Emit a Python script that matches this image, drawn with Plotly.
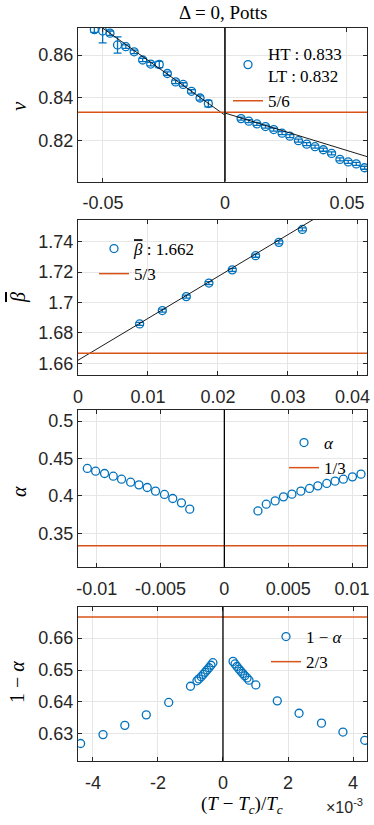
import numpy as np
import plotly.graph_objects as go

# ---- panel 1 : nu vs reduced temperature ----
nu_t_lt = [-0.0535, -0.0501, -0.0471, -0.0440, -0.0406, -0.0372, -0.0337, -0.0304,
           -0.0269, -0.0236, -0.0202, -0.0171, -0.0137, -0.0102, -0.0068]
nu_lt = [0.8718, 0.8712, 0.8702, 0.8647, 0.8639, 0.8615, 0.8577, 0.8558,
         0.8556, 0.8514, 0.8475, 0.8463, 0.8431, 0.8400, 0.8374]
nu_lt_err = [0.0012, 0.0055, 0.0010, 0.0038, 0.0008, 0.0008, 0.0008, 0.0008,
             0.0015, 0.0008, 0.0008, 0.0008, 0.0008, 0.0010, 0.0015]
nu_t_ht = [0.0066, 0.0098, 0.0131, 0.0166, 0.0200, 0.0234, 0.0266, 0.0301,
           0.0335, 0.0369, 0.0403, 0.0437, 0.0471, 0.0505, 0.0538, 0.0572]
nu_ht = [0.8304, 0.8292, 0.8279, 0.8267, 0.8253, 0.8236, 0.8222, 0.8201,
         0.8185, 0.8173, 0.8159, 0.8142, 0.8114, 0.8102, 0.8093, 0.8075]
nu_ht_err = [0.0007] * len(nu_ht)
nu_fit_lt = (0.832, -0.81)   # intercept, slope
nu_fit_ht = (0.833, -0.349)

# ---- panel 2 : beta bar ----
beta_t = [0.00881, 0.01205, 0.01548, 0.01871, 0.02205, 0.02538, 0.02871, 0.03206]
beta = [1.6859, 1.6947, 1.7039, 1.7128, 1.7215, 1.7308, 1.7396, 1.7481]
beta_err = [0.001] * len(beta)
beta_fit = (1.662, 2.755)

# ---- panel 3 : alpha ----
alpha_t = [-0.01073, -0.01008, -0.00938, -0.00870, -0.00805, -0.00734, -0.00669,
           -0.00604, -0.00539, -0.00469, -0.00404, -0.00336, -0.00271,
           0.00263, 0.00328, 0.00398, 0.00463, 0.00529, 0.00599, 0.00667,
           0.00732, 0.00802, 0.00867, 0.00932, 0.01003, 0.01070]
alpha = [0.4366, 0.4330, 0.4299, 0.4263, 0.4223, 0.4183, 0.4147,
         0.4112, 0.4063, 0.4019, 0.3965, 0.3907, 0.3823,
         0.3799, 0.3889, 0.3933, 0.3987, 0.4023, 0.4063, 0.4099,
         0.4134, 0.4166, 0.4197, 0.4223, 0.4254, 0.4290]

# ---- panel 4 : 1 - alpha (t in units of 1e-3) ----
oma_t = [-4.38, -3.69, -3.02, -2.36, -1.67, -1.00,
         -0.80, -0.74, -0.67, -0.61, -0.55, -0.49, -0.43, -0.37, -0.31,
         0.31, 0.37, 0.43, 0.49, 0.55, 0.61, 0.67, 0.74, 0.80,
         1.01, 1.67, 2.34, 3.03, 3.69, 4.36]
one_minus_alpha = [0.6269, 0.6297, 0.6326, 0.6359, 0.6398, 0.6449,
                   0.6466, 0.6472, 0.6479, 0.6486, 0.6493, 0.6500, 0.6507, 0.6515, 0.6523,
                   0.6527, 0.6519, 0.6511, 0.6503, 0.6496, 0.6489, 0.6482, 0.6475, 0.6468,
                   0.6453, 0.6403, 0.6364, 0.6333, 0.6305, 0.6279]

BLUE = '#0072BD'
ORANGE = '#D95319'
AX = '#262626'
SERIF = 'Liberation Serif'
SANS = 'Liberation Sans'
BETA = '<span style="text-decoration:overline"><i>β</i></span>'

xr = [[-0.0602, 0.0582], [0, 0.0413], [-0.01146, 0.01117], [-4.46e-3, 4.43e-3]]
yr = [[0.8011, 0.8726], [1.6523, 1.7543], [0.305, 0.5147], [0.6214, 0.6698]]

W, H = 374, 825
def px_x(p):
    return p / W
def px_y(p):
    return 1 - p / H

left, right = px_x(78), px_x(367)
ydom = [[px_y(181.5), px_y(28)], [px_y(375), px_y(220)],
        [px_y(567), px_y(410)], [px_y(761), px_y(607)]]

fig = go.Figure()
circ = dict(symbol='circle-open', size=8, color=BLUE, line=dict(width=1.3, color=BLUE))

# panel 1
fig.add_trace(go.Scatter(x=nu_t_lt + nu_t_ht, y=nu_lt + nu_ht, mode='markers', marker=circ,
                         error_y=dict(type='data', array=nu_lt_err + nu_ht_err, color=BLUE,
                                      thickness=1.3, width=4),
                         name='HT : 0.833<br>LT : 0.832', legend='legend', xaxis='x', yaxis='y'))
xl = np.array([xr[0][0], 0])
fig.add_trace(go.Scatter(x=xl, y=nu_fit_lt[0] + nu_fit_lt[1] * xl, mode='lines',
                         line=dict(color='black', width=0.9), showlegend=False, xaxis='x', yaxis='y'))
xh = np.array([0, xr[0][1]])
fig.add_trace(go.Scatter(x=xh, y=nu_fit_ht[0] + nu_fit_ht[1] * xh, mode='lines',
                         line=dict(color='black', width=0.9), showlegend=False, xaxis='x', yaxis='y'))
fig.add_trace(go.Scatter(x=xr[0], y=[5 / 6] * 2, mode='lines', line=dict(color=ORANGE, width=1.5),
                         name='5/6', legend='legend', xaxis='x', yaxis='y'))

# panel 2
fig.add_trace(go.Scatter(x=beta_t, y=beta, mode='markers', marker=circ,
                         error_y=dict(type='data', array=beta_err, color=BLUE, thickness=1.3, width=4),
                         name=BETA + ' : 1.662', legend='legend2', xaxis='x2', yaxis='y2'))
xb = np.array(xr[1])
fig.add_trace(go.Scatter(x=xb, y=beta_fit[0] + beta_fit[1] * xb, mode='lines',
                         line=dict(color='black', width=0.9), showlegend=False, xaxis='x2', yaxis='y2'))
fig.add_trace(go.Scatter(x=xr[1], y=[5 / 3] * 2, mode='lines', line=dict(color=ORANGE, width=1.5),
                         name='5/3', legend='legend2', xaxis='x2', yaxis='y2'))

# panel 3
fig.add_trace(go.Scatter(x=alpha_t, y=alpha, mode='markers', marker=circ,
                         name='<i>α</i>', legend='legend3', xaxis='x3', yaxis='y3'))
fig.add_trace(go.Scatter(x=xr[2], y=[1 / 3] * 2, mode='lines', line=dict(color=ORANGE, width=1.5),
                         name='1/3', legend='legend3', xaxis='x3', yaxis='y3'))

# panel 4
fig.add_trace(go.Scatter(x=np.array(oma_t) * 1e-3, y=one_minus_alpha, mode='markers', marker=circ,
                         name='1 − <i>α</i>', legend='legend4', xaxis='x4', yaxis='y4'))
fig.add_trace(go.Scatter(x=xr[3], y=[2 / 3] * 2, mode='lines', line=dict(color=ORANGE, width=1.5),
                         name='2/3', legend='legend4', xaxis='x4', yaxis='y4'))

# vertical lines at T = Tc
for ax, w, c in [('', 1.8, AX), ('3', 1.3, 'black'), ('4', 1.3, 'black')]:
    fig.add_shape(type='line', x0=0, x1=0, y0=0, y1=1, xref='x' + ax, yref='y' + ax + ' domain',
                  line=dict(color=c, width=w))

base = dict(showline=True, linecolor=AX, linewidth=1, mirror='ticks', ticks='inside', ticklen=4,
            tickcolor=AX, showgrid=True, gridcolor='#e6e6e6', gridwidth=1, zeroline=False,
            automargin=False, tickfont=dict(family=SANS, size=18, color=AX))

# the last label of panel 2 is pushed inside the figure (as MATLAB does), drawn below
xticks = [
    ([-0.05, 0, 0.05], ['-0.05', '0', '0.05']),
    ([0, 0.01, 0.02, 0.03, 0.04], ['0', '0.01', '0.02', '0.03', '']),
    ([-0.01, -0.005, 0, 0.005, 0.01], ['-0.01', '-0.005', '0', '0.005', '0.01']),
    ([-4e-3, -2e-3, 0, 2e-3, 4e-3], ['-4', '-2', '0', '2', '4']),
]
yticks = [
    [0.82, 0.84, 0.86],
    [1.66, 1.68, 1.70, 1.72, 1.74],
    [0.35, 0.40, 0.45, 0.50],
    [0.63, 0.64, 0.65, 0.66],
]

lay = {}
for i in range(4):
    s = '' if i == 0 else str(i + 1)
    lay['xaxis' + s] = dict(base, domain=[left, right], range=xr[i], anchor='y' + s,
                            tickvals=xticks[i][0], ticktext=xticks[i][1], ticklabelstandoff=5)
    lay['yaxis' + s] = dict(base, domain=ydom[i], range=yr[i], anchor='x' + s,
                            tickvals=yticks[i])

leg = dict(bgcolor='rgba(0,0,0,0)', borderwidth=0, xanchor='left', yanchor='top',
           font=dict(family=SERIF, size=17, color='black'), tracegroupgap=0)
lay['legend'] = dict(leg, x=px_x(228), y=px_y(36))
lay['legend2'] = dict(leg, x=px_x(94), y=px_y(231))
lay['legend3'] = dict(leg, x=px_x(284), y=px_y(425))
lay['legend4'] = dict(leg, x=px_x(266), y=px_y(619))

ann = [
    dict(text='Δ = 0, Potts', x=px_x(223), y=px_y(13), font=dict(family=SERIF, size=19)),
    dict(text='<i>ν</i>', x=px_x(19), y=px_y(106), textangle=-90, font=dict(family=SERIF, size=21)),
    dict(text=BETA, x=px_x(18), y=px_y(298), textangle=-90, font=dict(family=SERIF, size=20)),
    dict(text='<i>α</i>', x=px_x(19), y=px_y(492), textangle=-90, font=dict(family=SERIF, size=20)),
    dict(text='1 − <i>α</i>', x=px_x(17), y=px_y(682), textangle=-90, font=dict(family=SERIF, size=20)),
    dict(text='(<i>T</i> − <i>T<sub>c</sub></i>)/<i>T<sub>c</sub></i>', x=px_x(242), y=px_y(805),
         font=dict(family=SERIF, size=19)),
    dict(text='×10<sup>-3</sup>', x=px_x(365), y=px_y(806), xanchor='right',
         font=dict(family=SANS, size=16, color=AX)),
    dict(text='0.04', x=px_x(372), y=px_y(397), xanchor='right',
         font=dict(family=SANS, size=18, color=AX)),
]
for a in ann:
    a.update(xref='paper', yref='paper', showarrow=False, yanchor='middle')
    a.setdefault('xanchor', 'center')
    a['font'].setdefault('color', 'black')

fig.update_layout(width=W, height=H, margin=dict(l=0, r=0, t=0, b=0),
                  paper_bgcolor='white', plot_bgcolor='white', annotations=ann, **lay)

fig.write_html("out.html", config={'displayModeBar': False},
               post_script="document.body.style.margin='0';")
